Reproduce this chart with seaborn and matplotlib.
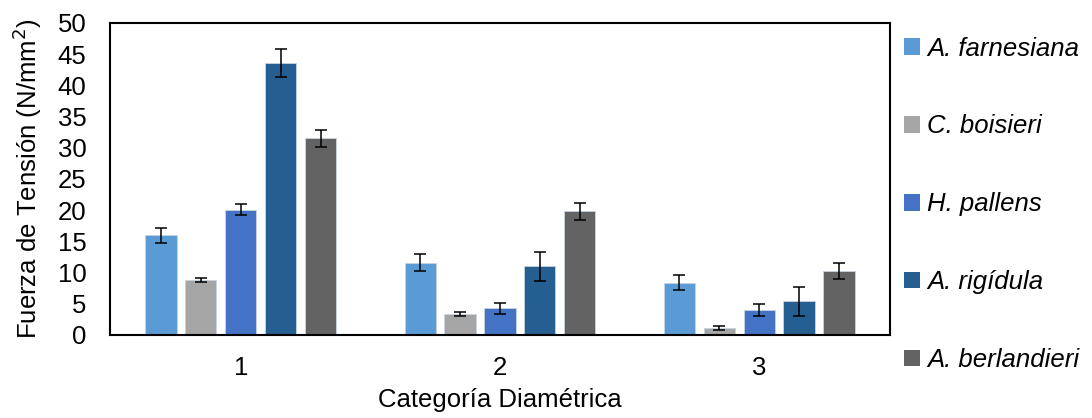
import pandas as pd
import seaborn as sns
import matplotlib.pyplot as plt
from matplotlib.patches import Patch

categories = ['1', '2', '3']
species = ['A. farnesiana', 'C. boisieri', 'H. pallens', 'A. rigídula', 'A. berlandieri']
colors = ['#5B9BD5', '#A5A5A5', '#4472C4', '#255E91', '#636363']

# mean tensile strength per species, one value per diameter category
farnesiana = [16.0, 11.6, 8.4]
boisieri = [8.8, 3.4, 1.1]
pallens = [20.1, 4.3, 4.0]
rigidula = [43.6, 11.0, 5.4]
berlandieri = [31.5, 19.8, 10.2]

# error bar half-widths
err_farnesiana = [1.2, 1.3, 1.2]
err_boisieri = [0.3, 0.3, 0.3]
err_pallens = [0.9, 0.9, 0.9]
err_rigidula = [2.2, 2.3, 2.3]
err_berlandieri = [1.3, 1.3, 1.3]

values = [farnesiana, boisieri, pallens, rigidula, berlandieri]
errors = [err_farnesiana, err_boisieri, err_pallens, err_rigidula, err_berlandieri]

rows = []
for sp, vals, errs in zip(species, values, errors):
    for cat, v, e in zip(categories, vals, errs):
        rows.append({'Categoria': cat, 'Especie': sp, 'Fuerza': v, 'Error': e})
df = pd.DataFrame(rows)

sns.set_style('white')
plt.rcParams['font.family'] = ['Liberation Sans', 'DejaVu Sans']
plt.rcParams['text.color'] = 'black'
plt.rcParams['axes.labelcolor'] = 'black'
plt.rcParams['xtick.color'] = 'black'
plt.rcParams['ytick.color'] = 'black'
fs = 18.5

fig = plt.figure(figsize=(10.92, 4.18), dpi=100)
ax = fig.add_axes([0.1007, 0.1986, 0.7143, 0.7464])

sns.barplot(data=df, x='Categoria', y='Fuerza', hue='Especie', order=categories,
            hue_order=species, palette=colors, saturation=1, errorbar=None,
            width=0.77, gap=0.22, edgecolor='#c8d4e0', linewidth=0.6, ax=ax, legend=False)

# add the error bars on top of each bar
for container, sp in zip(ax.containers, species):
    sub = df[df['Especie'] == sp].set_index('Categoria').loc[categories]
    xs = [p.get_x() + p.get_width() / 2 for p in container.patches]
    ax.errorbar(xs, sub['Fuerza'], yerr=sub['Error'], fmt='none', ecolor='black',
                elinewidth=1.1, capsize=4.5, capthick=1.1)

ax.set_ylim(0, 50)
ax.set_yticks(range(0, 51, 5))
ax.tick_params(axis='both', length=0, labelsize=fs)
ax.tick_params(axis='y', pad=17)
ax.tick_params(axis='x', pad=15)
ax.set_xlabel('Categoría Diamétrica', fontsize=fs, labelpad=6)
ax.set_ylabel('Fuerza de Tensión (N/mm$^2$)', fontsize=fs, labelpad=10)

for side in ['left', 'right', 'top', 'bottom']:
    ax.spines[side].set_visible(True)
    ax.spines[side].set_color('black')
    ax.spines[side].set_linewidth(1.5)

handles = [Patch(facecolor=c, edgecolor='none') for c in colors]
leg = fig.legend(handles, species, loc='upper left', bbox_to_anchor=(0.807, 0.968),
                 frameon=False, handlelength=0.6, handleheight=0.6, handletextpad=0.3,
                 labelspacing=2.1, prop={'size': 18.5, 'style': 'italic'})

plt.savefig('out.png', dpi=100)
